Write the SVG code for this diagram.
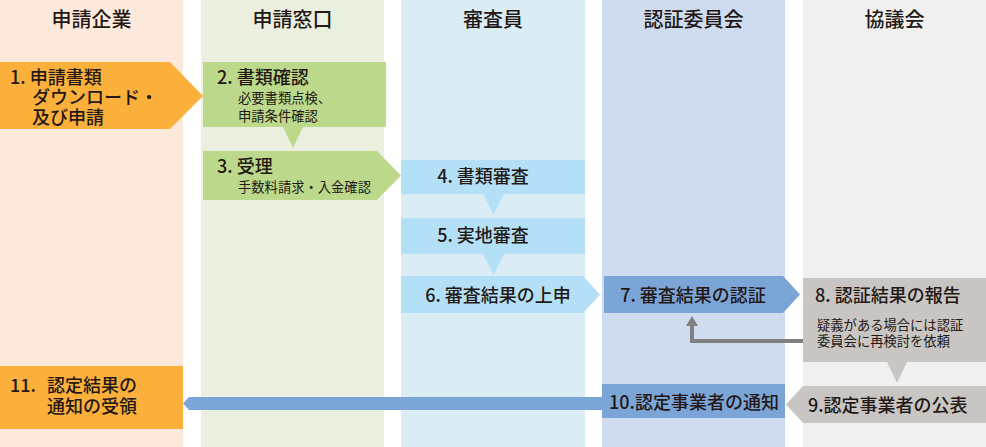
<svg xmlns="http://www.w3.org/2000/svg" width="986" height="447" viewBox="0 0 986 447">
<style>
text{font-family:"Noto Sans CJK JP","Noto Sans",sans-serif;fill:#231815;font-weight:500}
.h{font-size:20px;text-anchor:middle}
.t{font-size:18px}
.s{font-size:13.3px;font-weight:400}
.m{text-anchor:middle}
.or{fill:#fbb03b}.gr{fill:#bbd88b}.lb{fill:#b3e0f6}.db{fill:#7ca5d7}.gy{fill:#c8c5c3}
</style>
<g id="lanes">
<rect x="0" y="0" width="183" height="447" fill="#fde9db"/>
<rect x="201" y="0" width="183" height="447" fill="#ebefdf"/>
<rect x="401" y="0" width="184" height="447" fill="#dbedf4"/>
<rect x="602" y="0" width="183" height="447" fill="#cfdcef"/>
<rect x="803" y="0" width="183" height="447" fill="#f0f0f0"/>
<text class="h" x="91.5" y="27">申請企業</text>
<text class="h" x="292.5" y="27">申請窓口</text>
<text class="h" x="493" y="27">審査員</text>
<text class="h" x="693.5" y="27">認証委員会</text>
<text class="h" x="894.5" y="27">協議会</text>
</g>
<g id="connectors">
<polyline points="803,341 692,341 692,324" fill="none" stroke="#808080" stroke-width="4"/>
<polygon points="692,316 686,326 698,326" fill="#808080"/>
<polygon points="183,403.5 189,397 602,397 602,410 189,410" class="db"/>
</g>
<g id="n1">
<polygon points="0,62 170,62 203,96 170,129 0,129" class="or"/>
<text class="t" x="10" y="84">1. 申請書類</text>
<text class="t" x="32" y="104">ダウンロード・</text>
<text class="t" x="32" y="124">及び申請</text>
</g>
<g id="n2">
<rect x="203" y="62" width="183" height="65" class="gr"/>
<polygon points="283,127 303,127 293,148" class="gr"/>
<text class="t" x="217" y="84">2. 書類確認</text>
<text class="s" x="238" y="103">必要書類点検、</text>
<text class="s" x="238" y="121">申請条件確認</text>
</g>
<g id="n3">
<polygon points="203,151 377,151 401,175.5 377,200 203,200" class="gr"/>
<text class="t" x="217" y="173">3. 受理</text>
<text class="s" x="238" y="192">手数料請求・入金確認</text>
</g>
<g id="n4">
<rect x="401" y="160" width="184" height="34" class="lb"/>
<polygon points="483,194 504,194 493.5,215" class="lb"/>
<text class="t m" x="483" y="183">4. 書類審査</text>
</g>
<g id="n5">
<rect x="401" y="218" width="184" height="36" class="lb"/>
<polygon points="483,254 504,254 493.5,275" class="lb"/>
<text class="t m" x="483" y="242">5. 実地審査</text>
</g>
<g id="n6">
<polygon points="401,276 583,276 600,294.5 583,313 401,313" class="lb"/>
<text class="t m" x="498" y="302">6. 審査結果の上申</text>
</g>
<g id="n7">
<polygon points="604,276 783,276 800,294.5 783,313 604,313" class="db"/>
<text class="t m" x="693" y="302">7. 審査結果の認証</text>
</g>
<g id="n8">
<rect x="803" y="278" width="183" height="84" class="gy"/>
<polygon points="887,362 907,362 897,383" class="gy"/>
<text class="t" x="815" y="302">8. 認証結果の報告</text>
<text class="s" x="817" y="330">疑義がある場合には認証</text>
<text class="s" x="817" y="346">委員会に再検討を依頼</text>
</g>
<g id="n9">
<polygon points="786,404.5 803,386 986,386 986,423 803,423" class="gy"/>
<text class="t" x="808" y="412">9.認定事業者の公表</text>
</g>
<g id="n10">
<rect x="602" y="384" width="183" height="34" class="db"/>
<text class="t" x="609" y="409">10.認定事業者の通知</text>
</g>
<g id="n11">
<rect x="0" y="366" width="183" height="63" class="or"/>
<text class="t" x="10" y="392">11.</text>
<text class="t" x="47" y="392">認定結果の</text>
<text class="t" x="47" y="413">通知の受領</text>
</g>
</svg>
